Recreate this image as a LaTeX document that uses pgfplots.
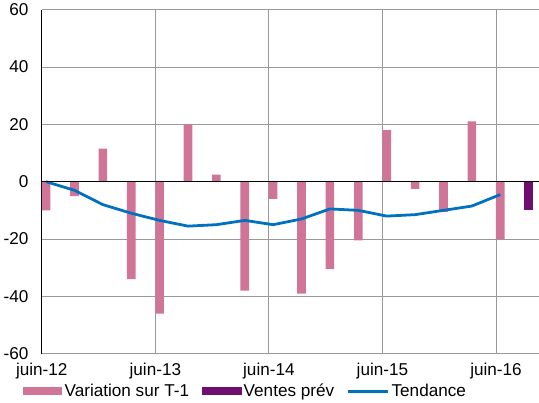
\documentclass[border=0pt]{standalone}
\usepackage{pgfplots}
\pgfplotsset{compat=1.18}
\usepackage{fontspec}
\setmainfont{Liberation Sans}
\definecolor{pinkb}{RGB}{209,117,152}
\definecolor{purp}{RGB}{112,14,112}
\definecolor{blu}{RGB}{0,112,192}
\begin{document}
\begin{tikzpicture}
\begin{axis}[
  width=462bp, height=320bp, scale only axis,
  xmin=-0.15, xmax=17.35, ymin=-60, ymax=60,
  ytick={-60,-40,...,60},
  xtick={-0.15,3.85,7.85,11.85,15.85},
  xticklabels={juin-12,juin-13,juin-14,juin-15,juin-16},
  /pgf/number format/assume math mode=true,
  ticklabel style={font=\fontsize{16}{16}\selectfont},
  xticklabel style={yshift=-5bp},
  yticklabel style={xshift=-9bp},
  grid=major, grid style={gray!80, line width=0.8pt},
  axis x line=bottom, axis y line=left,
  x axis line style={draw=none}, axis line style={-, line width=0.8pt},
  major tick length=0pt,
  legend style={at={(0.41,-0.075)}, anchor=north, draw=none, legend columns=3,
    font=\fontsize{16}{16}\selectfont, /tikz/every even column/.append style={column sep=10pt}},
  clip=false,
]
\addplot[ybar, bar width=8bp, fill=pinkb, draw=none,
  legend image code/.code={\fill[pinkb] (0cm,-3.5pt) rectangle (1.3cm,3.5pt);}] coordinates {
(0,-10)(1,-5)(2,11.5)(3,-34)(4,-46)(5,20)(6,2.5)(7,-38)(8,-6)(9,-39)(10,-30.5)(11,-20.5)(12,18)(13,-2.5)(14,-10.5)(15,21)(16,-20)};
\addlegendentry{Variation sur T-1}
\addplot[ybar, bar width=8bp, fill=purp, draw=none,
  legend image code/.code={\fill[purp] (0cm,-3.5pt) rectangle (1.3cm,3.5pt);}] coordinates {(17,-10)};
\addlegendentry{Ventes prév}
\addplot[blu, line width=2.6pt, mark=none,
  legend image code/.code={\draw[blu, line width=2.6pt] (0cm,0cm) -- (1.3cm,0cm);}] coordinates {
(0,0)(1,-3)(2,-8)(3,-11)(4,-13.5)(5,-15.5)(6,-15)(7,-13.5)(8,-15)(9,-13)(10,-9.5)(11,-10)(12,-12)(13,-11.5)(14,-10)(15,-8.5)(16,-4.5)};
\addlegendentry{Tendance}
\draw[black, line width=0.8pt] (axis cs:-0.15,0) -- (axis cs:17.35,0);
\end{axis}
\end{tikzpicture}
\end{document}
